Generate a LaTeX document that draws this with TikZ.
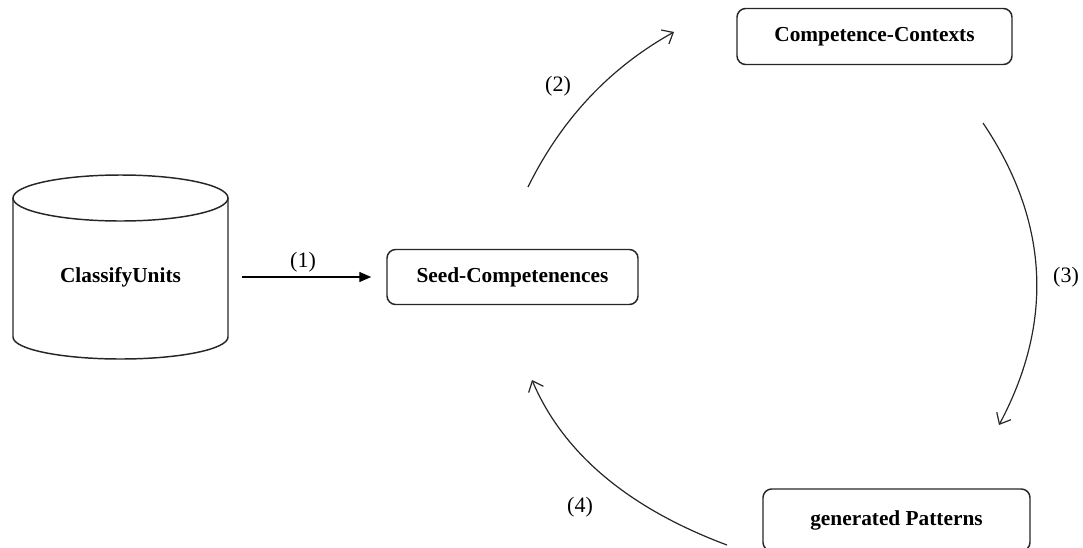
\documentclass[tikz,border=0pt]{standalone}
\usepackage{fontspec}
\setmainfont{Liberation Serif}
\usetikzlibrary{arrows.meta}

\begin{document}
\begin{tikzpicture}[x=0.75pt, y=-0.75pt,
  boxline/.style={draw=black!85, line width=1.1pt},
  stagebox/.style={boxline, rounded corners=6.5pt, align=center,
    font=\fontsize{16}{19}\selectfont\bfseries, inner sep=0pt},
  steplabel/.style={font=\fontsize{16.5}{19}\selectfont, inner sep=1pt},
  flow/.style={draw=black!85, line width=0.9pt,
    -{Straight Barb[length=7pt, width=12pt, line width=0.9pt]}},
  feed/.style={draw=black, line width=1pt,
    -{Triangle[length=9pt, width=7.5pt]}}]

\clip (0,0) rectangle (1083,547);
\useasboundingbox (0,0) rectangle (1083,547);

% database cylinder
\draw[boxline] (13,198) -- (13,337)
  arc[start angle=180, end angle=360, x radius=80.625pt, y radius=16.5pt]
  -- (228,198);
\draw[boxline] (120.5,198) ellipse[x radius=80.625pt, y radius=17.25pt];
\node[minimum width=161.25pt, minimum height=60pt, inner sep=0pt,
  font=\fontsize{16}{19}\selectfont\bfseries] (cu) at (120.5,277) {ClassifyUnits};

% processing stages
\node[stagebox, minimum width=188.25pt, minimum height=41.25pt] (seed) at (512.5,277) {Seed-Competenences};
\node[stagebox, minimum width=206.25pt, minimum height=42pt] (ctx) at (874.5,36.5) {Competence-Contexts};
\node[stagebox, minimum width=200.25pt, minimum height=46.5pt] (pat) at (896.5,520) {generated Patterns};

% free ends of the cycle arrows
\coordinate (c2s) at (528,187);
\coordinate (c2e) at (674,32);
\coordinate (c3s) at (983,123);
\coordinate (c3e) at (999,425);
\coordinate (c4s) at (727,545);
\coordinate (c4e) at (532,380);

% connectors
\draw[feed, shorten <=14pt*0.75, shorten >=15pt*0.75] (cu.east) -- (seed.west);
\draw[flow] (c2s) .. controls (562,118) and (611,67) .. (c2e);
\draw[flow] (c3s) .. controls (1049,221) and (1054,322) .. (c3e);
\draw[flow] (c4s) .. controls (628,508) and (563,453) .. (c4e);

% step numbers
\node[steplabel] (l1) at (303,262) {(1)};
\node[steplabel] (l2) at (558,86) {(2)};
\node[steplabel] (l3) at (1066,277) {(3)};
\node[steplabel] (l4) at (580,507) {(4)};
\end{tikzpicture}
\end{document}
